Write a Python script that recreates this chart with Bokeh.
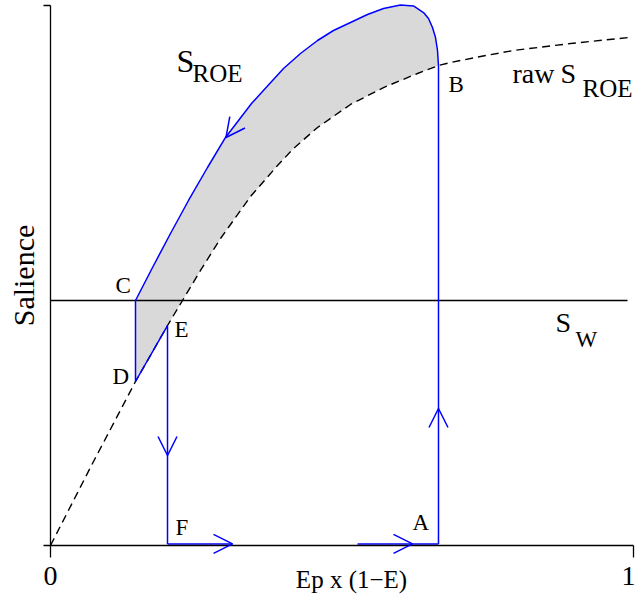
from bokeh.plotting import figure
from bokeh.models import Range1d, FixedTicker, Arrow, OpenHead, LinearAxis
from bokeh.core.properties import value
from bokeh.embed import file_html
from bokeh.resources import INLINE

# ---------------- data (x = Ep x (1-E), y = salience) ----------------
# raw S_ROE (dashed curve)
raw_x = [0.0, 0.072, 0.1458, 0.2007, 0.2264, 0.2573, 0.2916, 0.3431, 0.3894, 0.4168,
         0.4580, 0.5146, 0.5712, 0.6295, 0.6655, 0.6861, 0.7376, 0.7942, 0.8919, 0.9914]
raw_y = [0.0, 0.1519, 0.3037, 0.4074, 0.4537, 0.5093, 0.5685, 0.6463, 0.7037, 0.7352,
         0.7741, 0.8167, 0.8481, 0.8741, 0.8889, 0.8944, 0.9056, 0.9167, 0.9296, 0.9407]

# S_ROE (upper blue curve, from C to B)
roe_x = [0.1458, 0.1750, 0.2058, 0.2367, 0.2693, 0.3002, 0.3448, 0.3722, 0.3997, 0.4288,
         0.4580, 0.4854, 0.5146, 0.5437, 0.5712, 0.6003, 0.6226, 0.6398, 0.6484, 0.6552,
         0.6604, 0.6638, 0.6655]
roe_y = [0.4537, 0.5148, 0.5778, 0.6389, 0.7000, 0.7556, 0.8185, 0.8509, 0.8833, 0.9111,
         0.9352, 0.9537, 0.9685, 0.9833, 0.9944, 1.0009, 0.9991, 0.9870, 0.9759, 0.9593,
         0.9407, 0.9167, 0.8889]

# S_W level
sw_level = 0.4537
sw_x = [0.0, 0.9897]

# cycle key points
cycle_labels = ["A", "B", "C", "D", "E", "F"]
cycle_x = [0.6655, 0.6655, 0.1458, 0.1458, 0.2007, 0.2007]
cycle_y = [0.003, 0.8889, 0.4537, 0.3037, 0.4074, 0.003]

# bottom horizontal blue segments (start x, end x)
seg_start = [0.2007, 0.5266]
seg_end = [0.3122, 0.6655]

# arrow heads: a point behind each tip (direction) and the tip
arrow_from_x = [0.6655, 0.2007, 0.2800, 0.5900, 0.3448]
arrow_from_y = [0.2000, 0.2200, 0.003, 0.003, 0.8185]
arrow_tip_x = [0.6655, 0.2007, 0.3122, 0.6209, 0.3010]
arrow_tip_y = [0.2537, 0.1667, 0.003, 0.003, 0.7556]

x_ticks = [0, 1]
y_ticks = [0, 1]

BLUE = "#0000ff"
FONT = "Liberation Serif"

# frame fills the canvas; axes sit at fixed data locations (x=0 at px 50, y=0 at px 545)
p = figure(width=635, height=597,
           x_range=Range1d(-50 / 583, 1 + 2 / 583), y_range=Range1d(-52 / 540, 545 / 540),
           output_backend="svg", toolbar_location=None,
           x_axis_location=None, y_axis_location=None,
           min_border_left=0, min_border_right=0, min_border_top=0, min_border_bottom=0)
p.outline_line_color = None
p.grid.visible = False
p.background_fill_color = "white"
p.border_fill_color = "white"

xaxis = LinearAxis(fixed_location=0, bounds=(0, 1), ticker=FixedTicker(ticks=x_ticks))
yaxis = LinearAxis(fixed_location=0, bounds=(0, 1), ticker=FixedTicker(ticks=y_ticks),
                   axis_label="Salience")
for ax in (xaxis, yaxis):
    ax.axis_line_color = "black"
    ax.axis_line_width = 1.3
    ax.major_tick_line_color = "black"
    ax.major_tick_line_width = 1.3
    ax.major_tick_in = 0
    ax.minor_tick_line_color = None
xaxis.major_tick_out = 12
xaxis.major_label_standoff = 9
xaxis.major_label_text_font = FONT
xaxis.major_label_text_font_size = "28px"
xaxis.major_label_text_color = "black"
yaxis.major_tick_out = 7
yaxis.major_label_overrides = {0: "", 1: ""}
yaxis.major_label_standoff = 0
yaxis.axis_label_text_font = FONT
yaxis.axis_label_text_font_size = "30px"
yaxis.axis_label_text_font_style = "normal"
yaxis.axis_label_text_color = "black"
yaxis.axis_label_standoff = 4
p.add_layout(xaxis, "below")
p.add_layout(yaxis, "left")

# shaded region between S_ROE and raw S_ROE (C -> B along S_ROE, back B -> D along raw)
back = [(x, y) for x, y in zip(raw_x, raw_y) if cycle_x[3] <= x <= cycle_x[1]][::-1]
fill_x = roe_x + [b[0] for b in back]
fill_y = roe_y + [b[1] for b in back]
p.patch(fill_x, fill_y, fill_color="#d9d9d9", line_color=None)

# raw S_ROE dashed
p.line(raw_x, raw_y, line_color="black", line_width=1.4, line_dash="8 5")

# S_W horizontal
p.line(sw_x, [sw_level, sw_level], line_color="black", line_width=1.4)

# blue cycle: A -> B -> S_ROE -> C -> D -> E -> F
path_x = [cycle_x[0]] + roe_x[::-1] + [cycle_x[3], cycle_x[4], cycle_x[5]]
path_y = [cycle_y[0]] + roe_y[::-1] + [cycle_y[3], cycle_y[4], cycle_y[5]]
p.line(path_x, path_y, line_color=BLUE, line_width=1.5)
p.multi_line([[s, e] for s, e in zip(seg_start, seg_end)], [[0.003, 0.003]] * len(seg_start),
             line_color=BLUE, line_width=1.5)

for fx, fy, tx, ty in zip(arrow_from_x, arrow_from_y, arrow_tip_x, arrow_tip_y):
    p.add_layout(Arrow(x_start=fx, y_start=fy, x_end=tx, y_end=ty, line_alpha=0,
                       end=OpenHead(size=19, line_color=BLUE, line_width=1.5)))

# point labels
lab_x = [0.6209, 0.6827, 0.1115, 0.1063, 0.2127, 0.2144]
lab_y = [0.0426, 0.8537, 0.4815, 0.3129, 0.4000, 0.0333]
p.text(lab_x, lab_y, text=cycle_labels, text_font=value(FONT), text_font_size=value("23px"),
       text_color="black", text_baseline="alphabetic", text_align="left")

# curve labels
p.text([0.2161], [0.8966], text=["S"], text_font=value(FONT), text_font_size=value("32px"),
       text_color="black", text_baseline="alphabetic")
p.text([0.2436], [0.8736], text=["ROE"], text_font=value(FONT), text_font_size=value("25px"),
       text_color="black", text_baseline="alphabetic")
p.text([0.7925, 0.8748], [0.8737, 0.8737], text=["raw", "S"], text_font=value(FONT),
       text_font_size=value("28px"), text_color="black", text_baseline="alphabetic")
p.text([0.9125], [0.8458], text=["ROE"], text_font=value(FONT), text_font_size=value("25px"),
       text_color="black", text_baseline="alphabetic")
p.text([0.8662], [0.4125], text=["S"], text_font=value(FONT), text_font_size=value("28px"),
       text_color="black", text_baseline="alphabetic")
p.text([0.9005], [0.3815], text=["W"], text_font=value(FONT), text_font_size=value("23px"),
       text_color="black", text_baseline="alphabetic")

# x axis title (sits on the tick-label row)
p.text([0.5163], [-0.0634], text=["Ep x (1\u2212E)"], text_font=value(FONT),
       text_font_size=value("25px"), text_color="black", text_align="center",
       text_baseline="alphabetic")

open("out.html", "w").write(file_html(p, INLINE))
